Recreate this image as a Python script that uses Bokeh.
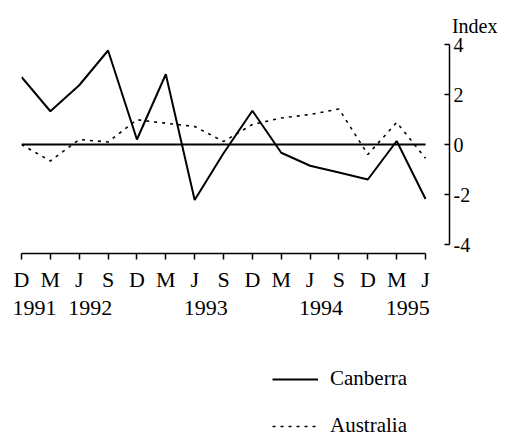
from bokeh.plotting import figure
from bokeh.layouts import column
from bokeh.models import (Range1d, FixedTicker, LinearAxis, Legend, LegendItem, Title)
from bokeh.embed import file_html
from bokeh.resources import INLINE

# ---- data ----
months = ["D", "M", "J", "S", "D", "M", "J", "S", "D", "M", "J", "S", "D", "M", "J"]
years = [1991, 1992, 1992, 1992, 1992, 1993, 1993, 1993, 1993, 1994, 1994, 1994, 1994, 1995, 1995]
canberra = [2.70, 1.33, 2.37, 3.76, 0.20, 2.81, -2.22, -0.35, 1.35, -0.33, -0.85, -1.12, -1.40, 0.14, -2.18]
australia = [0.00, -0.66, 0.20, 0.10, 0.99, 0.85, 0.72, 0.12, 0.80, 1.06, 1.20, 1.42, -0.40, 0.88, -0.55]
y_ticks = [-4, -2, 0, 2, 4]

FONT = "Liberation Serif"
n = len(months)
xs = list(range(n))

p = figure(width=500, height=328, output_backend="svg", toolbar_location=None,
           x_range=Range1d(0, n - 1 + 0.83), y_range=Range1d(-4.36, 4),
           min_border_left=21, min_border_right=51, min_border_top=44, min_border_bottom=75,
           x_axis_location=None, y_axis_location=None)
p.outline_line_color = None
p.grid.visible = False
p.background_fill_color = "white"
p.border_fill_color = "white"

p.title = Title(text="Index", align="right", offset=-48, standoff=16,
                text_font=FONT, text_font_size="20px", text_font_style="normal",
                text_color="black")

# zero line
p.line(x=[xs[0], xs[-1]], y=[0, 0], line_color="black", line_width=2)

p.line(x=xs, y=canberra, line_color="black", line_width=2)
p.line(x=xs, y=australia, line_color="black", line_width=1.6, line_dash="3 5")

# month axis
xa = LinearAxis(ticker=FixedTicker(ticks=xs),
                major_label_overrides={i: m for i, m in enumerate(months)})
xa.bounds = (xs[0], xs[-1])
xa.axis_line_width = 1.5
xa.major_tick_line_width = 1.5
xa.major_tick_in = 0
xa.major_tick_out = 6
xa.minor_tick_line_color = None
xa.major_label_standoff = 7
xa.major_label_text_font = FONT
xa.major_label_text_font_size = "22px"
xa.major_label_text_color = "black"
p.add_layout(xa, "below")

# year axis
uniq = []
for y in years:
    if y not in uniq:
        uniq.append(y)
year_pos = []
for y in uniq:
    idx = [i for i, yy in enumerate(years) if yy == y]
    year_pos.append(max(sum(idx) / len(idx) - 0.12, 0.45))
ya2 = LinearAxis(ticker=FixedTicker(ticks=year_pos),
                 major_label_overrides={pos: str(y) for pos, y in zip(year_pos, uniq)})
ya2.axis_line_color = None
ya2.major_tick_line_color = None
ya2.minor_tick_line_color = None
ya2.major_label_standoff = 0
ya2.major_label_text_font = FONT
ya2.major_label_text_font_size = "22px"
ya2.major_label_text_color = "black"
p.add_layout(ya2, "below")

# right y axis
yr = LinearAxis(ticker=FixedTicker(ticks=y_ticks),
                major_label_overrides={t: str(t) for t in y_ticks})
yr.bounds = (y_ticks[0], y_ticks[-1])
yr.axis_line_width = 1.5
yr.major_tick_line_width = 1.5
yr.major_tick_in = 5
yr.major_tick_out = 0
yr.minor_tick_line_color = None
yr.major_label_standoff = 4
yr.major_label_text_font = FONT
yr.major_label_text_font_size = "20px"
yr.major_label_text_color = "black"
p.add_layout(yr, "right")

# legend panel (separate strip below the chart; its lines sit outside its view)
pl = figure(width=500, height=110, output_backend="svg", toolbar_location=None,
            x_range=Range1d(100, 101), y_range=Range1d(0, 1),
            min_border=0, x_axis_location=None, y_axis_location=None)
pl.outline_line_color = None
pl.grid.visible = False
l_can = pl.line(x=xs, y=canberra, line_color="black", line_width=2)
l_aus = pl.line(x=xs, y=australia, line_color="black", line_width=1.6, line_dash="3 5")

legend = Legend(items=[LegendItem(label="Canberra", renderers=[l_can]),
                       LegendItem(label="Australia", renderers=[l_aus])],
                location=(251, 0), orientation="vertical")
legend.border_line_color = None
legend.background_fill_alpha = 0
legend.padding = 0
legend.margin = 0
legend.glyph_width = 46
legend.glyph_height = 20
legend.label_height = 20
legend.label_standoff = 12
legend.spacing = 22
legend.label_text_font = FONT
legend.label_text_font_size = "21px"
legend.label_text_color = "black"
pl.add_layout(legend, "center")

layout = column(p, pl, spacing=0)
open("out.html", "w").write(file_html(layout, INLINE))
